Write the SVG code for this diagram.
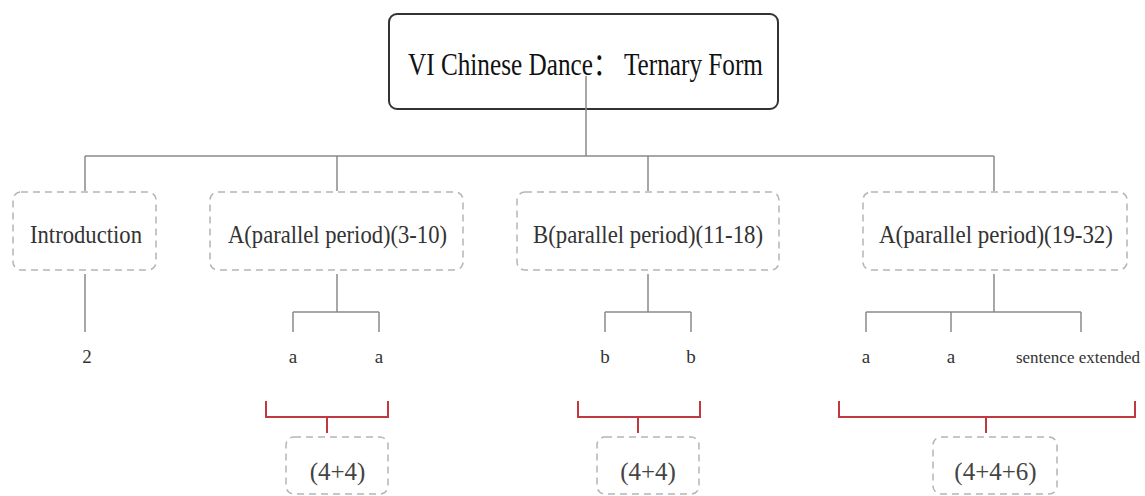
<svg xmlns="http://www.w3.org/2000/svg" width="1145" height="496" viewBox="0 0 1145 496">
  <style>
    .lbl { font-family: "Liberation Serif", "Noto Sans CJK SC", serif; text-anchor: middle; }
    .title { font-size: 31px; fill: #111; }
    .main { font-size: 26px; fill: #333; }
    .leaf { font-size: 19px; fill: #333; }
    .leaf.long { font-size: 17px; }
    .sum { font-size: 25px; fill: #444; }
    .dash { fill: #fff; stroke: #b5b5b5; stroke-width: 1.5; stroke-dasharray: 7 5; }
    .conn { fill: none; stroke: #8a8a8a; stroke-width: 1.5; }
    .brace { fill: none; stroke: #c0393f; stroke-width: 2; }
  </style>
  <rect width="1145" height="496" fill="#fff"/>

  <!-- root -->
  <g id="root">
    <rect x="389" y="14" width="389" height="95" rx="8" fill="#fff" stroke="#333" stroke-width="2"/>
    <text class="lbl title" x="585.5" y="75" textLength="355" lengthAdjust="spacingAndGlyphs">VI Chinese Dance：  Ternary Form</text>
  </g>

  <!-- connectors -->
  <g id="connectors">
    <path class="conn" d="M586 76 V156 M85 156 H994 M85 156 V191 M337 156 V191 M648 156 V191 M994 156 V191"/>
    <path class="conn" d="M85 274 V332"/>
    <path class="conn" d="M337 274 V312 M293 312 H379 M293 312 V332 M379 312 V332"/>
    <path class="conn" d="M648 274 V312 M605 312 H691 M605 312 V332 M691 312 V332"/>
    <path class="conn" d="M994 274 V312 M866 312 H1081 M866 312 V332 M951 312 V332 M1081 312 V332"/>
    <path class="brace" d="M266 401 V417 H388 V401 M327 417 V433"/>
    <path class="brace" d="M578 401 V417 H700 V401 M638 417 V433"/>
    <path class="brace" d="M839 401 V417 H1135 V401 M986 417 V433"/>
  </g>

  <!-- sections -->
  <g id="intro">
    <rect class="dash" x="13" y="192" width="143" height="78" rx="8"/>
    <text class="lbl main" x="86" y="243" textLength="112" lengthAdjust="spacingAndGlyphs">Introduction</text>
  </g>
  <g id="sectionA1">
    <rect class="dash" x="210" y="192" width="253" height="78" rx="8"/>
    <text class="lbl main" x="337.5" y="243" textLength="219" lengthAdjust="spacingAndGlyphs">A(parallel period)(3-10)</text>
  </g>
  <g id="sectionB">
    <rect class="dash" x="517" y="192" width="262" height="78" rx="8"/>
    <text class="lbl main" x="648" y="243" textLength="230" lengthAdjust="spacingAndGlyphs">B(parallel period)(11-18)</text>
  </g>
  <g id="sectionA2">
    <rect class="dash" x="863" y="192" width="264" height="78" rx="8"/>
    <text class="lbl main" x="996" y="243" textLength="234" lengthAdjust="spacingAndGlyphs">A(parallel period)(19-32)</text>
  </g>

  <!-- phrases -->
  <g id="introBars"><text class="lbl leaf" x="87" y="363">2</text></g>
  <g id="a1Phrase1"><text class="lbl leaf" x="293" y="363">a</text></g>
  <g id="a1Phrase2"><text class="lbl leaf" x="379" y="363">a</text></g>
  <g id="bPhrase1"><text class="lbl leaf" x="605" y="363">b</text></g>
  <g id="bPhrase2"><text class="lbl leaf" x="691" y="363">b</text></g>
  <g id="a2Phrase1"><text class="lbl leaf" x="866" y="363">a</text></g>
  <g id="a2Phrase2"><text class="lbl leaf" x="951" y="363">a</text></g>
  <g id="a2Phrase3"><text class="lbl leaf long" x="1078" y="363">sentence extended</text></g>

  <!-- bar counts -->
  <g id="a1Bars">
    <rect class="dash" x="286" y="437" width="102" height="57" rx="8"/>
    <text class="lbl sum" x="337.5" y="480">(4+4)</text>
  </g>
  <g id="bBars">
    <rect class="dash" x="597" y="437" width="102" height="57" rx="8"/>
    <text class="lbl sum" x="648" y="480">(4+4)</text>
  </g>
  <g id="a2Bars">
    <rect class="dash" x="933" y="437" width="124" height="57" rx="8"/>
    <text class="lbl sum" x="995.5" y="480">(4+4+6)</text>
  </g>
</svg>
